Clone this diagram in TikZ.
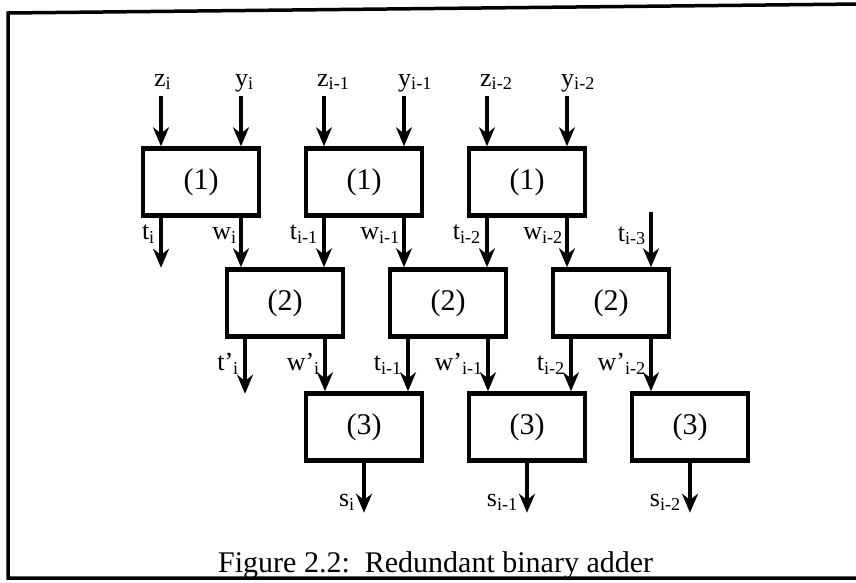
\documentclass[tikz,border=0pt]{standalone}
\usepackage{fontspec}
\setmainfont{Liberation Serif}
\usetikzlibrary{arrows.meta,calc}
\newcommand{\sbs}[2]{#1\textsubscript{#2}}

\begin{document}
\begin{tikzpicture}[x=1pt,y=-1pt,
  blk/.style={draw,line width=4.5pt,minimum width=116pt,minimum height=67pt,font=\fontsize{30}{36}\selectfont},
  arr/.style={line width=4.5pt,-{Stealth[length=19pt,width=16pt]}},
  lbl/.style={inner sep=0pt,font=\fontsize{26}{30}\selectfont}]
  \useasboundingbox (0,0) rectangle (856,582);
  % frame, cut off on the right
  \draw[line width=3.5pt] (860,4) -- (8,13) -- (8,578) -- (860,578);
  % three rows of cells, each row shifted right
  \foreach \k in {1,2,3}{
    \node[blk] (a\k) at ({201+163*(\k-1)},182) {(1)};
    \node[blk] (b\k) at ({285+163*(\k-1)},303) {(2)};
    \node[blk] (c\k) at ({364+163*(\k-1)},427) {(3)};
  }
  % inputs z, y
  \foreach \k/\n in {1/i,2/i-1,3/i-2}{
    \coordinate (zt\k) at ($(a\k.north)+(-40,-50)$);
    \coordinate (yt\k) at ($(a\k.north)+(40,-50)$);
    \draw[arr] (zt\k) -- (zt\k |- a\k.north);
    \draw[arr] (yt\k) -- (yt\k |- a\k.north);
    \node[lbl,anchor=base west] (zl\k) at ($(zt\k)+(-7,-10)$) {\sbs{z}{\n}};
    \node[lbl,anchor=base west] (yl\k) at ($(yt\k)+(-6,-10)$) {\sbs{y}{\n}};
  }
  % row 1 -> row 2
  \coordinate (ti) at ($(a1.south)+(-40,50)$);
  \draw[arr] (a1.south -| ti) -- (ti);
  \foreach \k/\n in {1/i,2/i-1,3/i-2}{
    \draw[arr] ([xshift=40pt]a\k.south) -- ([xshift=40pt]a\k.south |- b\k.north);
    \node[lbl,anchor=base east] (tl\k) at ($(a\k.south)+(-46,22)$) {\sbs{t}{\n}};
    \node[lbl,anchor=base east] (wl\k) at ($(a\k.south)+(36,22)$) {\sbs{w}{\n}};
  }
  \draw[arr] ([xshift=-40pt]a2.south) -- ([xshift=-40pt]a2.south |- b1.north);
  \draw[arr] ([xshift=-40pt]a3.south) -- ([xshift=-40pt]a3.south |- b2.north);
  \coordinate (tt) at ($(b3.north)+(40,-55)$);
  \draw[arr] (tt) -- (tt |- b3.north);
  \node[lbl,anchor=base east] (tl4) at ($(tt)+(-5,29)$) {\sbs{t}{i-3}};
  % row 2 -> row 3
  \coordinate (tpi) at ($(b1.south)+(-40,55)$);
  \draw[arr] (b1.south -| tpi) -- (tpi);
  \foreach \k/\n/\p in {1/i/',2/i-1/,3/i-2/}{
    \draw[arr] ([xshift=40pt]b\k.south) -- ([xshift=40pt]b\k.south |- c\k.north);
    \node[lbl,anchor=base east] (ul\k) at ($(b\k.south)+(-46,32)$) {\sbs{t\p}{\n}};
    \node[lbl,anchor=base east] (vl\k) at ($(b\k.south)+(35,32)$) {\sbs{w'}{\n}};
  }
  \draw[arr] ([xshift=-40pt]b2.south) -- ([xshift=-40pt]b2.south |- c1.north);
  \draw[arr] ([xshift=-40pt]b3.south) -- ([xshift=-40pt]b3.south |- c2.north);
  % sums
  \foreach \k/\n in {1/i,2/i-1,3/i-2}{
    \coordinate (so\k) at ($(c\k.south)+(0,50)$);
    \draw[arr] (c\k.south) -- (so\k);
    \node[lbl,anchor=base east] (sl\k) at ($(c\k.south)+(-9,44)$) {\sbs{s}{\n}};
  }
  \node[anchor=base west,inner sep=0pt,font=\fontsize{30}{36}\selectfont] (cap) at (218,572) {Figure 2.2:\ \ Redundant binary adder};
\end{tikzpicture}
\end{document}
